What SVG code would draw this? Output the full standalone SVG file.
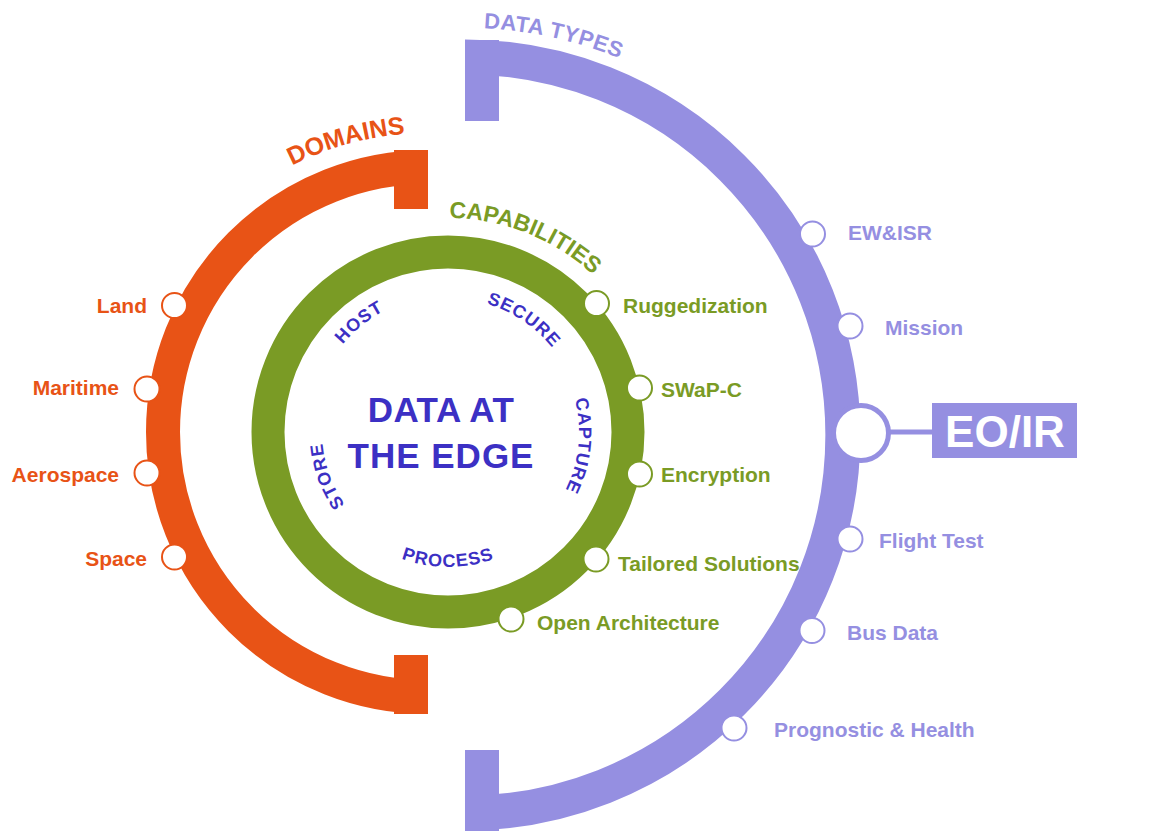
<svg xmlns="http://www.w3.org/2000/svg" width="1171" height="837" viewBox="0 0 1171 837">
<style>
.t{font-family:"Liberation Sans",Arial,sans-serif;font-weight:bold}
.or{fill:#e85316}.gr{fill:#7a9b25}.pu{fill:#958fe1}.bl{fill:#3c30c4}
.lbl{font-size:21px}
.in{font-size:18px;letter-spacing:1px}
.dot{fill:#fff;stroke-width:2}
.dor{stroke:#e85316}.dgr{stroke:#7a9b25}.dpu{stroke:#958fe1}
</style>
<defs>
<path id="pCap" d="M314.8,264.5 A214,214 0 0 1 659.6,400.4"/>
<path id="pTypes" d="M164.9,160.0 A407,407 0 0 1 853.2,312.6"/>
<path id="pDom" d="M138.3,358.1 A299,299 0 0 1 636.8,218.0"/>
<path id="pHost" d="M312.7,453.4 A137,137 0 0 1 497.1,304.1"/>
<path id="pSecure" d="M389.3,311.6 A134,134 0 0 1 581.7,441.4"/>
<path id="pCapture" d="M525.0,326.0 A131,131 0 0 1 501.3,551.7"/>
<path id="pStore" d="M426.1,556.1 A126,126 0 0 1 351.5,351.0"/>
<path id="pProcess" d="M331.1,499.5 A135,135 0 0 0 564.9,499.5"/>
</defs>

<g id="data-types">
<path d="M465,57 A378,378 0 0 1 465,813" fill="none" stroke="#958fe1" stroke-width="35"/>
<rect x="465" y="40" width="34" height="81" fill="#958fe1"/>
<rect x="465" y="750" width="34" height="81" fill="#958fe1"/>
<text class="t pu" font-size="22" letter-spacing="0.5"><textPath href="#pTypes" startOffset="50%" text-anchor="middle">DATA TYPES</textPath></text>
</g>

<g id="domains">
<path d="M428,167 A265,265 0 0 0 428,697" fill="none" stroke="#e85316" stroke-width="34"/>
<rect x="394" y="150" width="34" height="59" fill="#e85316"/>
<rect x="394" y="655" width="34" height="59" fill="#e85316"/>
<text class="t or" font-size="25"><textPath href="#pDom" startOffset="50%" text-anchor="middle">DOMAINS</textPath></text>
</g>

<g id="capabilities">
<circle cx="448" cy="432" r="180" fill="none" stroke="#7a9b25" stroke-width="33"/>
<text class="t gr" font-size="23"><textPath href="#pCap" startOffset="50%" text-anchor="middle">CAPABILITIES</textPath></text>
</g>

<g id="center">
<text class="t bl" font-size="35" text-anchor="middle" x="441" y="422" letter-spacing="0.5">DATA AT</text>
<text class="t bl" font-size="35" text-anchor="middle" x="441" y="468" letter-spacing="1">THE EDGE</text>
</g>

<g id="inner-labels">
<text class="t bl in"><textPath href="#pHost" startOffset="50%" text-anchor="middle">HOST</textPath></text>
<text class="t bl in"><textPath href="#pSecure" startOffset="50%" text-anchor="middle">SECURE</textPath></text>
<text class="t bl in"><textPath href="#pCapture" startOffset="50%" text-anchor="middle">CAPTURE</textPath></text>
<text class="t bl in"><textPath href="#pStore" startOffset="50%" text-anchor="middle">STORE</textPath></text>
<text class="t bl in"><textPath href="#pProcess" startOffset="50%" text-anchor="middle">PROCESS</textPath></text>
</g>

<g id="domain-items">
<g id="land"><circle class="dot dor" cx="174.5" cy="305.5" r="12.5"/><text class="t or lbl" x="147" y="313" text-anchor="end">Land</text></g>
<g id="maritime"><circle class="dot dor" cx="147" cy="389" r="12.5"/><text class="t or lbl" x="119" y="395" text-anchor="end">Maritime</text></g>
<g id="aerospace"><circle class="dot dor" cx="147" cy="473" r="12.5"/><text class="t or lbl" x="119" y="482" text-anchor="end">Aerospace</text></g>
<g id="space"><circle class="dot dor" cx="174.5" cy="557" r="12.5"/><text class="t or lbl" x="147" y="566" text-anchor="end">Space</text></g>
</g>

<g id="capability-items">
<g id="ruggedization"><circle class="dot dgr" cx="596.5" cy="303.5" r="12.5"/><text class="t gr lbl" x="623" y="313">Ruggedization</text></g>
<g id="swapc"><circle class="dot dgr" cx="639.5" cy="388" r="12.5"/><text class="t gr lbl" x="661" y="397">SWaP-C</text></g>
<g id="encryption"><circle class="dot dgr" cx="639.5" cy="474" r="12.5"/><text class="t gr lbl" x="661" y="482">Encryption</text></g>
<g id="tailored"><circle class="dot dgr" cx="596" cy="559" r="12.5"/><text class="t gr lbl" x="618" y="571">Tailored Solutions</text></g>
<g id="open-arch"><circle class="dot dgr" cx="511" cy="619" r="12.5"/><text class="t gr lbl" x="537" y="630">Open Architecture</text></g>
</g>

<g id="type-items">
<g id="ewisr"><circle class="dot dpu" cx="812.5" cy="234" r="12.5"/><text class="t pu lbl" x="848" y="240">EW&amp;ISR</text></g>
<g id="mission"><circle class="dot dpu" cx="850" cy="326" r="12.5"/><text class="t pu lbl" x="885" y="335">Mission</text></g>
<g id="flight-test"><circle class="dot dpu" cx="850" cy="539" r="12.5"/><text class="t pu lbl" x="879" y="548">Flight Test</text></g>
<g id="bus-data"><circle class="dot dpu" cx="812" cy="630.5" r="12.5"/><text class="t pu lbl" x="847" y="640">Bus Data</text></g>
<g id="prognostic"><circle class="dot dpu" cx="734" cy="728" r="12.5"/><text class="t pu lbl" x="774" y="737">Prognostic &amp; Health</text></g>
</g>

<g id="connectors">
<line x1="888" y1="432" x2="933" y2="432" stroke="#958fe1" stroke-width="5"/>
</g>

<g id="eoir">
<circle cx="861" cy="433" r="27.5" fill="#fff" stroke="#958fe1" stroke-width="5"/>
<rect x="932" y="403" width="145" height="55" fill="#958fe1"/>
<text class="t" fill="#fff" font-size="44" x="1005" y="447" text-anchor="middle">EO/IR</text>
</g>
</svg>
